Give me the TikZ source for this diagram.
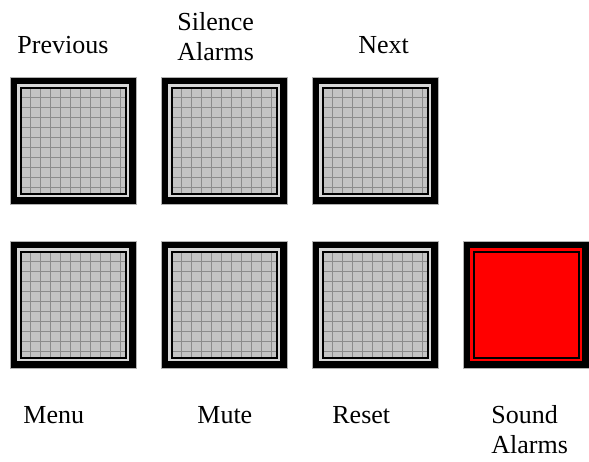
\documentclass[tikz,border=0pt]{standalone}
\usepackage{fontspec}
\setmainfont{Liberation Serif}
\usepackage{xcolor}
\usepackage{tikz}
\definecolor{keygray}{RGB}{196,196,196}
\definecolor{keyline}{RGB}{140,140,140}
\definecolor{keyband}{RGB}{215,215,215}
\definecolor{keyred}{RGB}{255,0,0}

\begin{document}
\begin{tikzpicture}
                \tikzset{x={(0.5pt, 0pt)}, y={(0pt, -0.5pt)}}
                \tikzset{
                    caption/.style={font=\fontsize{13}{15}\selectfont, inner sep=0pt, anchor=base west, align=left},
                    keyframe/.style={fill=black, draw=gray!60, line width=0.4pt},
                    graykey/.pic={
                        \draw[keyframe] (0,0) rectangle (126,127);
                        \draw[keyband, line width=1.25pt] (8.25,8.25) rectangle (117.75,118.75);
                        \fill[keygray] (11.5,11.5) rectangle (114.5,115.5);
                        \draw[keyline, line width=0.3pt, step=5pt] (11.5,115.5) grid (114.5,11.5);
                        \draw[black, line width=1pt] (10.5,10.5) rectangle (115.5,116.5);
                    },
                    redkey/.pic={
                        \draw[keyframe] (0,0) rectangle (126,127);
                        \draw[keyred, line width=1.25pt] (8.25,8.25) rectangle (117.75,118.75);
                        \draw[fill=keyred, draw=black, line width=1pt] (10.5,10.5) rectangle (115.5,116.5);
                    }}
                \fill[white] (0,0) rectangle (589,461);
                \useasboundingbox (0,0) rectangle (589,461);
                % top row
                \pic at ( 10, 77) {graykey};
                \pic at (161, 77) {graykey};
                \pic at (312, 77) {graykey};
                % bottom row
                \pic at ( 10,241) {graykey};
                \pic at (161,241) {graykey};
                \pic at (312,241) {graykey};
                \pic at (463,241) {redkey};
                % labels (two-line ones sit on their last baseline)
                \node[caption] (previous) at ( 17, 53.5) {Previous};
                \node[caption] (silence)  at (177, 60.5) {Silence\\Alarms};
                \node[caption] (next)     at (358, 53.5) {Next};
                \node[caption] (menu)     at ( 23,423.5) {Menu};
                \node[caption] (mute)     at (197,423.5) {Mute};
                \node[caption] (reset)    at (332,423.5) {Reset};
                \node[caption] (sound)    at (491,453.5) {Sound\\Alarms};
            \end{tikzpicture}
\end{document}
